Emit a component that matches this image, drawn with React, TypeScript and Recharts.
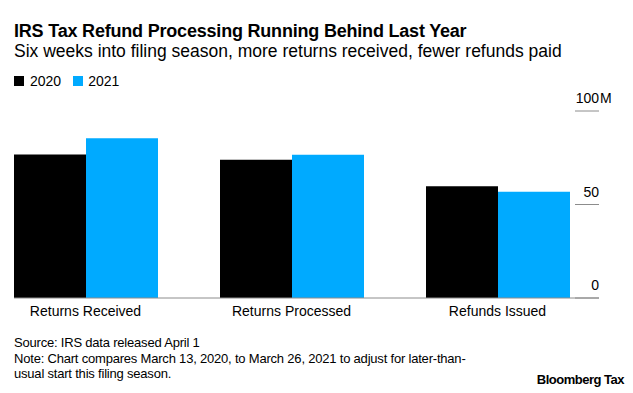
import React from 'react';
import { BarChart, Bar, XAxis, YAxis } from 'recharts';

const categories = ['Returns Received', 'Returns Processed', 'Refunds Issued'];
const values2020 = [76.7, 73.9, 59.8];
const values2021 = [85.4, 76.6, 56.8];
const yTicks = [0, 50, 100];

const data = categories.map((name, i) => ({ name, y2020: values2020[i], y2021: values2021[i] }));

const FONT = '"Liberation Sans", Arial, sans-serif';
const BLUE = '#00aaff';
const AXIS_GRAY = '#8c8c8c';
const PLOT_RIGHT = 599;

const YTick = (props: any) => {
  const { y, payload } = props;
  const v = payload.value;
  return (
    <g>
      <line x1={PLOT_RIGHT - 24} x2={PLOT_RIGHT} y1={y} y2={y} stroke={AXIS_GRAY} strokeWidth={1} />
      <text x={PLOT_RIGHT} y={y - 8} textAnchor="end" fontSize={14} fill="#000" fontFamily={FONT}>
        {v}
      </text>
      {v === 100 && (
        <text x={PLOT_RIGHT + 1} y={y - 8} textAnchor="start" fontSize={14} fill="#000" fontFamily={FONT}>
          M
        </text>
      )}
    </g>
  );
};

const App: React.FC = () => {
  return (
    <div style={{ position: 'absolute', left: 0, top: 0, width: 633, height: 393, background: '#fff', fontFamily: FONT, color: '#000' }}>
      <div style={{ position: 'absolute', left: 14, top: 21, fontSize: 18, fontWeight: 700, letterSpacing: -0.2, whiteSpace: 'nowrap' }}>
        IRS Tax Refund Processing Running Behind Last Year
      </div>
      <div style={{ position: 'absolute', left: 14, top: 41, fontSize: 17.5, whiteSpace: 'nowrap' }}>
        Six weeks into filing season, more returns received, fewer refunds paid
      </div>
      <div style={{ position: 'absolute', left: 14, top: 73, fontSize: 14, display: 'flex', alignItems: 'center', whiteSpace: 'nowrap' }}>
        <span style={{ display: 'inline-block', width: 10, height: 10, background: '#000', marginRight: 6 }} />
        <span style={{ marginRight: 12 }}>2020</span>
        <span style={{ display: 'inline-block', width: 10, height: 10, background: BLUE, marginRight: 5 }} />
        <span>2021</span>
      </div>

      <div style={{ position: 'absolute', left: 0, top: 80 }}>
        <BarChart
          width={633}
          height={248}
          data={data}
          margin={{ top: 31, right: 0, bottom: 0, left: 14 }}
          barGap={0}
          barCategoryGap={31.5}
        >
          <XAxis
            dataKey="name"
            axisLine={{ stroke: AXIS_GRAY, strokeWidth: 1 }}
            tickLine={false}
            padding={{ left: -31.5, right: -1.5 }}
            tick={{ fontSize: 14, fill: '#000', fontFamily: FONT }}
            interval={0}
            height={30}
          />
          <YAxis
            orientation="right"
            domain={[0, 100]}
            ticks={yTicks}
            axisLine={false}
            tickLine={false}
            width={34}
            tick={<YTick />}
          />
          <Bar dataKey="y2020" fill="#000" isAnimationActive={false} />
          <Bar dataKey="y2021" fill={BLUE} isAnimationActive={false} />
        </BarChart>
      </div>

      <div style={{ position: 'absolute', left: 14, top: 335, fontSize: 13, lineHeight: '15.5px', letterSpacing: -0.2 }}>
        <div>Source: IRS data released April 1</div>
        <div>Note: Chart compares March 13, 2020, to March 26, 2021 to adjust for later-than-</div>
        <div>usual start this filing season.</div>
      </div>
      <div style={{ position: 'absolute', right: 9, top: 372, fontSize: 13, fontWeight: 700, letterSpacing: -0.5 }}>
        Bloomberg Tax
      </div>
    </div>
  );
};

export default App;
